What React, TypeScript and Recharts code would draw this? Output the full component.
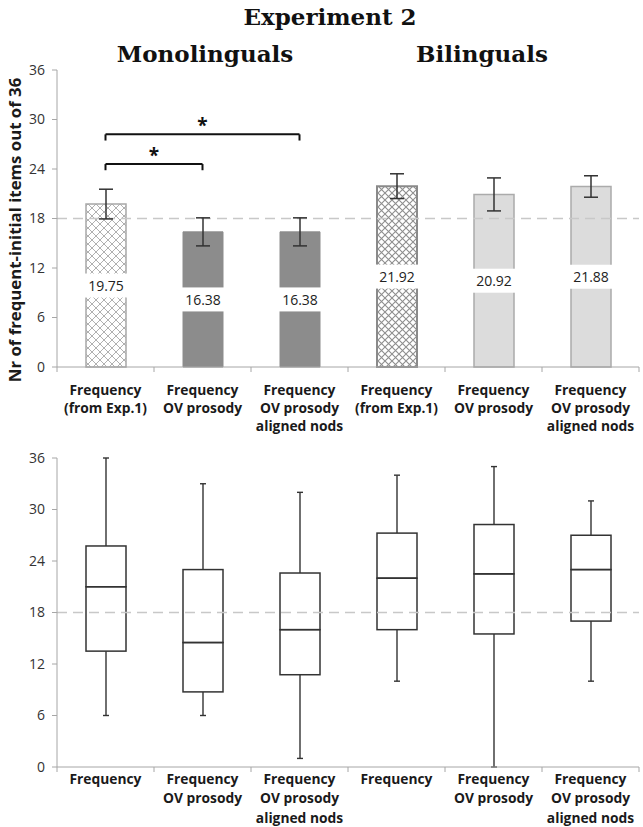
import React from 'react';
import { BarChart, Bar, XAxis, YAxis, ReferenceLine, ErrorBar, LabelList, Cell } from 'recharts';

// ---------- data ----------
const topLabels: string[][] = [
  ['Frequency', '(from Exp.1)'],
  ['Frequency', 'OV prosody'],
  ['Frequency', 'OV prosody', 'aligned nods'],
  ['Frequency', '(from Exp.1)'],
  ['Frequency', 'OV prosody'],
  ['Frequency', 'OV prosody', 'aligned nods'],
];
const bottomLabels: string[][] = [
  ['Frequency'],
  ['Frequency', 'OV prosody'],
  ['Frequency', 'OV prosody', 'aligned nods'],
  ['Frequency'],
  ['Frequency', 'OV prosody'],
  ['Frequency', 'OV prosody', 'aligned nods'],
];
const meanValues = [19.75, 16.38, 16.38, 21.92, 20.92, 21.88];
const errorValues = [1.8, 1.7, 1.7, 1.5, 2.0, 1.3];
const yTicks = [0, 6, 12, 18, 24, 30, 36];
const chanceLevel = 18;

const boxMin = [6, 6, 1, 10, 0, 10];
const boxQ1 = [13.5, 8.75, 10.75, 16, 15.5, 17];
const boxMedian = [21, 14.5, 16, 22, 22.5, 23];
const boxQ3 = [25.75, 23, 22.6, 27.25, 28.25, 27];
const boxMax = [36, 33, 32, 34, 35, 31];

const brackets = [
  { from: 0, to: 1, level: 24.6, drop: 0.75 },
  { from: 0, to: 2, level: 28.2, drop: 0.75 },
];

// ---------- derived tables ----------
const topData = meanValues.map((v, i) => ({ idx: i, mean: v, err: errorValues[i] }));
const boxData = boxMin.map((mn, i) => ({
  idx: i,
  base: mn,
  lower: boxQ1[i] - mn,
  boxLo: boxMedian[i] - boxQ1[i],
  boxHi: boxQ3[i] - boxMedian[i],
  upper: boxMax[i] - boxQ3[i],
}));
const xTicks: number[] = [];
topLabels.forEach((_, i) => { xTicks.push(i - 0.5, i); });
xTicks.push(topLabels.length - 0.5);
const xDomain: [number, number] = [-0.5, topLabels.length - 0.5];

// ---------- styles ----------
const FONT = '"Open Sans", "Noto Sans", sans-serif';
const AXIS = '#a6a6a6';
const barFills = ['url(#hatchLight)', '#8c8c8c', '#8c8c8c', 'url(#hatchDark)', '#dcdcdc', '#dcdcdc'];
const barStrokes = ['#a8a8a8', '#8c8c8c', '#8c8c8c', '#8a8a8a', '#ababab', '#ababab'];
const barStrokeW = [1.5, 1, 1, 2, 1.5, 1.5];

const makeTick = (labels: string[][], first: number, gap: number) => (props: any) => {
  const { x, y, payload } = props;
  const v = payload.value;
  if (Number.isInteger(v)) {
    const lines = labels[v] || [];
    return (
      <g>
        {lines.map((t, k) => (
          <text key={k} x={x} y={y + first + k * gap} textAnchor="middle" dominantBaseline="central"
            fontFamily={FONT} fontSize={13.8} fontWeight={700} fill="#1a1a1a">{t}</text>
        ))}
      </g>
    );
  }
  return <line x1={x} x2={x} y1={y} y2={y + 5} stroke={AXIS} strokeWidth={1} />;
};

const ValueLabel = (props: any) => {
  const vb = props.viewBox || props;
  const { x, y, width, height } = vb;
  const cx = x + width / 2;
  const cy = y + height / 2;
  return (
    <g>
      <rect x={x - 2} y={cy - 12} width={width + 4} height={24} fill="#ffffff" />
      <text x={cx} y={cy} textAnchor="middle" dominantBaseline="central" fontFamily={FONT} fontSize={14} fill="#222">
        {Number(props.value).toFixed(2)}
      </text>
    </g>
  );
};

const LowerWhisker = (p: any) => {
  const cx = p.x + p.width / 2;
  const yb = p.y + p.height;
  return (
    <g>
      <line x1={cx} x2={cx} y1={p.y} y2={yb} stroke="#333" strokeWidth={1.4} />
      <line x1={cx - 3} x2={cx + 3} y1={yb} y2={yb} stroke="#333" strokeWidth={1.4} />
    </g>
  );
};
const UpperWhisker = (p: any) => {
  const cx = p.x + p.width / 2;
  return (
    <g>
      <line x1={cx} x2={cx} y1={p.y} y2={p.y + p.height} stroke="#333" strokeWidth={1.4} />
      <line x1={cx - 3} x2={cx + 3} y1={p.y} y2={p.y} stroke="#333" strokeWidth={1.4} />
    </g>
  );
};
const BoxRect = (p: any) => (
  <rect x={p.x} y={p.y} width={p.width} height={p.height} fill="none" stroke="#333" strokeWidth={1.5} />
);

export default function App() {
  return (
    <div style={{ position: 'absolute', left: 0, top: 0, width: 643, height: 827, background: '#fff' }}>
      <div style={{ position: 'absolute', left: 0, top: 60 }}>
        <BarChart width={643} height={380} data={topData} margin={{ top: 10, right: 4, left: 0, bottom: 0 }}>
          <defs>
            <pattern id="hatchLight" width="8" height="8" patternUnits="userSpaceOnUse">
              <rect width="8" height="8" fill="#ffffff" />
              <path d="M0,0 L8,8 M8,0 L0,8" stroke="#b0b0b0" strokeWidth="1" />
            </pattern>
            <pattern id="hatchDark" width="7" height="7" patternUnits="userSpaceOnUse">
              <rect width="7" height="7" fill="#ffffff" />
              <path d="M0,0 L7,7 M7,0 L0,7" stroke="#8e8e8e" strokeWidth="1.1" />
            </pattern>
          </defs>
          <XAxis type="number" dataKey="idx" domain={xDomain} ticks={xTicks} interval={0} allowDecimals
            tickLine={false} tickSize={0} tickMargin={0} stroke={AXIS} height={73}
            tick={makeTick(topLabels, 22, 18)} />
          <YAxis domain={[0, 36]} ticks={yTicks} interval={0} width={57} tickSize={5} tickMargin={7} stroke={AXIS}
            tick={{ fill: '#333', fontSize: 14, fontFamily: FONT }} />
          <ReferenceLine y={chanceLevel} stroke="#c8c8c8" strokeDasharray="10 6" strokeWidth={1.5} />
          <Bar dataKey="mean" barSize={40} isAnimationActive={false}>
            {topData.map((d, i) => (
              <Cell key={i} fill={barFills[i]} stroke={barStrokes[i]} strokeWidth={barStrokeW[i]} />
            ))}
            <ErrorBar dataKey="err" width={7} stroke="#333" strokeWidth={1.5} />
            <LabelList dataKey="mean" content={<ValueLabel />} />
          </Bar>
          {brackets.map((b, i) => (
            <ReferenceLine key={'h' + i} segment={[{ x: b.from, y: b.level }, { x: b.to, y: b.level }]}
              stroke="#111" strokeWidth={2}
              label={{ value: '*', position: 'top', fontSize: 19, fontWeight: 700, fill: '#111', fontFamily: FONT, offset: 2 }} />
          ))}
          {brackets.map((b, i) => (
            <ReferenceLine key={'l' + i} segment={[{ x: b.from, y: b.level }, { x: b.from, y: b.level - b.drop }]}
              stroke="#111" strokeWidth={2} />
          ))}
          {brackets.map((b, i) => (
            <ReferenceLine key={'r' + i} segment={[{ x: b.to, y: b.level }, { x: b.to, y: b.level - b.drop }]}
              stroke="#111" strokeWidth={2} />
          ))}
        </BarChart>
      </div>

      <div style={{ position: 'absolute', left: 0, top: 440 }}>
        <BarChart width={643} height={387} data={boxData} margin={{ top: 18, right: 4, left: 0, bottom: 0 }}>
          <XAxis type="number" dataKey="idx" domain={xDomain} ticks={xTicks} interval={0} allowDecimals
            tickLine={false} tickSize={0} tickMargin={0} stroke={AXIS} height={60}
            tick={makeTick(bottomLabels, 11, 19.5)} />
          <YAxis domain={[0, 36]} ticks={yTicks} interval={0} width={57} tickSize={5} tickMargin={7} stroke={AXIS}
            tick={{ fill: '#333', fontSize: 14, fontFamily: FONT }} />
          <ReferenceLine y={chanceLevel} stroke="#c8c8c8" strokeDasharray="10 6" strokeWidth={1.5} />
          <Bar dataKey="base" stackId="b" fill="none" barSize={40} isAnimationActive={false} />
          <Bar dataKey="lower" stackId="b" barSize={40} shape={LowerWhisker} isAnimationActive={false} />
          <Bar dataKey="boxLo" stackId="b" barSize={40} shape={BoxRect} isAnimationActive={false} />
          <Bar dataKey="boxHi" stackId="b" barSize={40} shape={BoxRect} isAnimationActive={false} />
          <Bar dataKey="upper" stackId="b" barSize={40} shape={UpperWhisker} isAnimationActive={false} />
        </BarChart>
      </div>

      <svg width={643} height={827} style={{ position: 'absolute', left: 0, top: 0, pointerEvents: 'none' }}>
        <text x={330} y={16} textAnchor="middle" dominantBaseline="central" fontFamily='"DejaVu Serif", serif'
          fontWeight={700} fontSize={23} fill="#111">Experiment 2</text>
        <text x={205} y={53} textAnchor="middle" dominantBaseline="central" fontFamily='"DejaVu Serif", serif'
          fontWeight={700} fontSize={23} fill="#111">Monolinguals</text>
        <text x={482} y={53} textAnchor="middle" dominantBaseline="central" fontFamily='"DejaVu Serif", serif'
          fontWeight={700} fontSize={23} fill="#111">Bilinguals</text>
        <text x={14} y={230} transform="rotate(-90 14 230)" textAnchor="middle" dominantBaseline="central"
          fontFamily={FONT} fontWeight={700} fontSize={16.8} fill="#1a1a1a">Nr of frequent-initial items out of 36</text>
      </svg>
    </div>
  );
}
